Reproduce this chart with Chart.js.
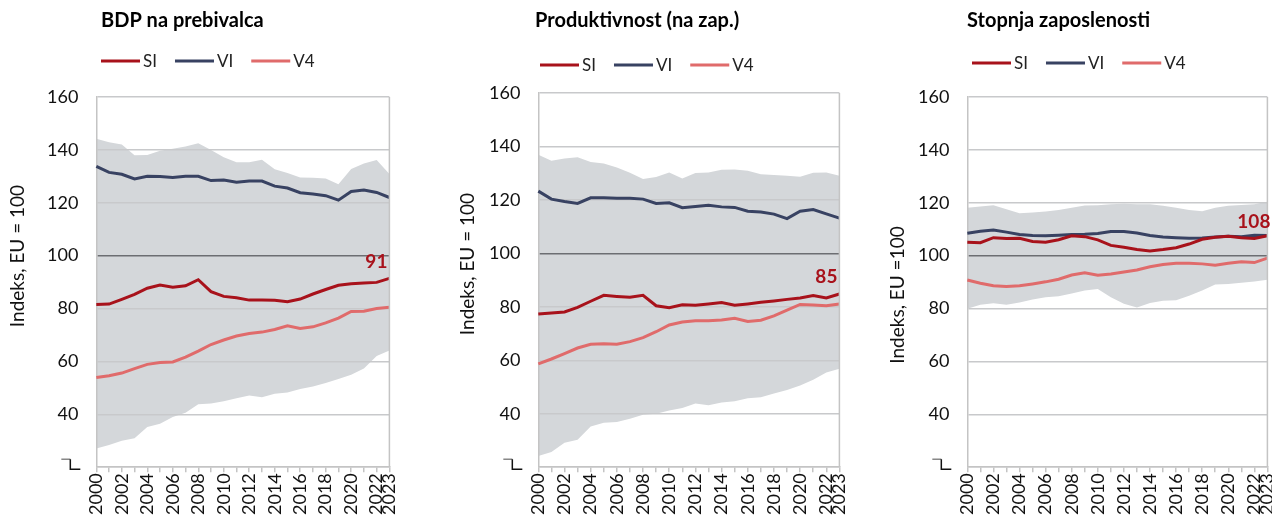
<!DOCTYPE html>
<html>
<head>
<meta charset="utf-8">
<script src="https://cdn.jsdelivr.net/npm/chart.js@4"></script>
<style>
  html, body { margin: 0; padding: 0; background: #fff; }
  #wrap { position: relative; width: 1272px; height: 516px; overflow: hidden; }
  .panel { position: absolute; top: 0; height: 516px; }
</style>
</head>
<body>
<div id="wrap">
  <div class="panel" style="left:0;width:412px"><canvas id="c1"></canvas></div>
  <div class="panel" style="left:450px;width:412px"><canvas id="c2"></canvas></div>
  <div class="panel" style="left:880px;width:410px"><canvas id="c3"></canvas></div>
</div>
<script>
var years = ['2000', '2001', '2002', '2003', '2004', '2005', '2006', '2007', '2008', '2009', '2010', '2011',
             '2012', '2013', '2014', '2015', '2016', '2017', '2018', '2019', '2020', '2021', '2022', '2023'];
var yTicks = [20, 40, 60, 80, 100, 120, 140, 160];

// BDP na prebivalca
var bdpSI  = [81.5, 81.7, 83.5, 85.4, 87.7, 88.9, 88.1, 88.6, 90.9, 86.4, 84.6, 84.1, 83.2, 83.2, 83.1, 82.6, 83.6, 85.5, 87.2, 88.8, 89.4, 89.7, 89.9, 91.4];
var bdpVI  = [133.8, 131.5, 130.8, 129.0, 130.0, 129.9, 129.6, 130.0, 130.0, 128.4, 128.6, 127.8, 128.2, 128.2, 126.3, 125.6, 123.8, 123.3, 122.7, 121.0, 124.3, 124.8, 123.9, 122.0];
var bdpV4  = [53.9, 54.6, 55.6, 57.3, 58.9, 59.6, 59.8, 61.6, 63.9, 66.4, 68.1, 69.6, 70.6, 71.1, 72.1, 73.5, 72.5, 73.1, 74.6, 76.4, 78.9, 79.0, 80.0, 80.5];
var bdpMax = [144.2, 142.9, 142.0, 138.0, 138.1, 139.7, 140.4, 141.3, 142.5, 140.0, 137.2, 135.3, 135.3, 136.3, 132.7, 131.3, 129.6, 129.5, 129.2, 127.0, 132.8, 134.9, 136.2, 130.9];
var bdpMin = [27.1, 28.4, 30.0, 31.0, 35.2, 36.4, 39.0, 40.6, 43.8, 44.1, 45.0, 46.1, 47.1, 46.5, 47.8, 48.3, 49.6, 50.5, 51.9, 53.4, 55.0, 57.3, 62.1, 64.1];

// Produktivnost (na zap.)
var prodSI  = [77.3, 77.7, 78.1, 79.8, 82.1, 84.3, 83.9, 83.6, 84.3, 80.4, 79.7, 80.8, 80.6, 81.1, 81.6, 80.6, 81.1, 81.7, 82.2, 82.8, 83.3, 84.2, 83.3, 84.8];
var prodVI  = [123.3, 120.3, 119.4, 118.7, 120.8, 120.8, 120.6, 120.6, 120.3, 118.7, 118.9, 117.1, 117.5, 118.0, 117.4, 117.2, 115.8, 115.5, 114.7, 113.0, 115.8, 116.4, 114.8, 113.2];
var prodV4  = [58.7, 60.5, 62.5, 64.6, 66.0, 66.2, 66.0, 67.0, 68.5, 70.7, 73.2, 74.3, 74.8, 74.8, 75.1, 75.7, 74.5, 75.0, 76.6, 78.8, 80.9, 80.7, 80.4, 81.1];
var prodMax = [136.9, 134.7, 135.5, 136.0, 134.2, 133.6, 132.1, 130.2, 127.8, 128.6, 130.3, 128.0, 130.1, 130.3, 131.3, 131.4, 130.9, 129.6, 129.3, 129.0, 128.7, 130.2, 130.3, 129.0];
var prodMin = [24.2, 25.7, 29.2, 30.3, 35.2, 36.6, 36.9, 38.1, 39.6, 40.0, 41.2, 42.2, 43.8, 43.2, 44.2, 44.7, 45.8, 46.2, 47.6, 48.9, 50.6, 52.7, 55.4, 56.8];

// Stopnja zaposlenosti
var zapSI  = [105.1, 104.9, 106.8, 106.5, 106.6, 105.4, 105.1, 106.0, 107.5, 107.2, 106.0, 103.9, 103.2, 102.3, 101.8, 102.3, 103.0, 104.4, 106.2, 107.0, 107.3, 106.8, 106.5, 107.5];
var zapVI  = [108.5, 109.2, 109.7, 108.9, 108.0, 107.6, 107.5, 107.7, 108.0, 108.1, 108.4, 109.1, 109.1, 108.6, 107.6, 107.1, 106.8, 106.6, 106.7, 107.1, 107.3, 107.2, 107.7, 107.6];
var zapV4  = [90.8, 89.6, 88.6, 88.3, 88.6, 89.3, 90.1, 91.1, 92.7, 93.5, 92.6, 93.1, 93.8, 94.6, 95.8, 96.7, 97.1, 97.1, 96.9, 96.4, 97.1, 97.7, 97.4, 99.1];
var zapMax = [118.1, 118.6, 119.1, 117.6, 116.0, 116.3, 116.7, 117.3, 118.1, 119.0, 119.1, 119.4, 119.6, 119.4, 119.4, 118.9, 118.1, 117.3, 116.8, 118.1, 118.9, 119.2, 119.4, 120.4];
var zapMin = [79.9, 81.4, 82.0, 81.4, 82.3, 83.4, 84.3, 84.7, 85.7, 86.8, 87.4, 84.3, 81.8, 80.4, 82.1, 83.0, 83.1, 84.8, 86.8, 89.1, 89.3, 89.8, 90.2, 90.9];

var FONT = 'Lato, "Liberation Sans", sans-serif';
var RED = '#a8121b', NAVY = '#384262', PINK = '#e06b6b', BAND = '#d4d7da';

var panels = [
  { id: 'c1', title: 'BDP na prebivalca', axis: 'Indeks, EU = 100',
    si: bdpSI, vi: bdpVI, v4: bdpV4, hi: bdpMax, lo: bdpMin,
    pad: { left: 29, top: 97, right: 0, bottom: 0 },
    titleX: 101, legendX: 101, legendY: 61, axisX: 18, axisY: 256, endDx: -2, endDy: -10 },
  { id: 'c2', title: 'Produktivnost (na zap.)', axis: 'Indeks, EU = 100',
    si: prodSI, vi: prodVI, v4: prodV4, hi: prodMax, lo: prodMin,
    pad: { left: 21, top: 93, right: 0, bottom: 0 },
    titleX: 85, legendX: 90, legendY: 65, axisX: 18, axisY: 264, endDx: -2, endDy: -11 },
  { id: 'c3', title: 'Stopnja zaposlenosti', axis: 'Indeks, EU =100',
    si: zapSI, vi: zapVI, v4: zapV4, hi: zapMax, lo: zapMin,
    pad: { left: 20, top: 97, right: 0, bottom: 0 },
    titleX: 87, legendX: 92, legendY: 63, axisX: 18, axisY: 295, endDx: 3, endDy: -8 }
];

// naslov, legenda, naslov osi, desni rob, prelom osi in oznaka zadnje vrednosti
var decor = {
  id: 'decor',
  afterDraw: function (chart) {
    var p = chart.options.plugins.decor;
    var ctx = chart.ctx, a = chart.chartArea;
    ctx.save();

    ctx.fillStyle = '#000';
    ctx.font = 'bold 20px ' + FONT;
    ctx.textAlign = 'left';
    ctx.textBaseline = 'middle';
    ctx.fillText(p.title, p.titleX, 21);

    // legenda
    ctx.font = '17px ' + FONT;
    var x = p.legendX;
    chart.data.datasets.forEach(function (ds) {
      if (!ds.inLegend) return;
      ctx.fillStyle = ds.borderColor;
      ctx.fillRect(x, p.legendY - 1.5, 39, 3);
      x += 42;
      ctx.fillStyle = '#222';
      ctx.fillText(ds.label, x, p.legendY + 1);
      x += ctx.measureText(ds.label).width + 18;
    });

    // naslov osi y
    ctx.save();
    ctx.translate(p.axisX, p.axisY);
    ctx.rotate(-Math.PI / 2);
    ctx.textAlign = 'center';
    ctx.fillStyle = '#111';
    ctx.font = '19px ' + FONT;
    ctx.fillText(p.axis, 0, 0);
    ctx.restore();

    // desni rob
    ctx.strokeStyle = '#c4c4c4';
    ctx.lineWidth = 1.5;
    ctx.beginPath();
    ctx.moveTo(a.right, a.top);
    ctx.lineTo(a.right, a.bottom);
    ctx.stroke();

    // prelom osi
    ctx.strokeStyle = '#888';
    ctx.beginPath();
    ctx.moveTo(a.left - 35, a.bottom - 8);
    ctx.lineTo(a.left - 26, a.bottom - 8);
    ctx.stroke();
    ctx.strokeStyle = '#111';
    ctx.beginPath();
    ctx.moveTo(a.left - 26, a.bottom - 8);
    ctx.lineTo(a.left - 26, a.bottom + 2);
    ctx.lineTo(a.left - 16, a.bottom + 2);
    ctx.stroke();

    // zadnja vrednost SI
    var meta = chart.getDatasetMeta(0);
    var last = meta.data[meta.data.length - 1];
    var val = chart.data.datasets[0].data[meta.data.length - 1];
    ctx.fillStyle = RED;
    ctx.font = 'bold 19px ' + FONT;
    ctx.textAlign = 'right';
    ctx.textBaseline = 'alphabetic';
    ctx.fillText(String(Math.round(val)), a.right + p.endDx, last.y + p.endDy);

    ctx.restore();
  }
};

function makeChart(p) {
  return new Chart(document.getElementById(p.id), {
    type: 'line',
    data: {
      labels: years,
      datasets: [
        { label: 'SI', data: p.si, borderColor: RED, borderWidth: 3, inLegend: true },
        { label: 'VI', data: p.vi, borderColor: NAVY, borderWidth: 3, inLegend: true },
        { label: 'V4', data: p.v4, borderColor: PINK, borderWidth: 3, inLegend: true },
        { label: 'max', data: p.hi, borderWidth: 0, borderColor: BAND, backgroundColor: BAND, fill: '+1' },
        { label: 'min', data: p.lo, borderWidth: 0, borderColor: BAND, fill: false }
      ]
    },
    options: {
      responsive: true,
      maintainAspectRatio: false,
      animation: false,
      layout: { padding: p.pad },
      elements: { point: { radius: 0 }, line: { tension: 0 } },
      plugins: {
        legend: { display: false },
        tooltip: { enabled: false },
        filler: { drawTime: 'beforeDraw' },
        decor: p
      },
      scales: {
        x: {
          grid: { drawOnChartArea: false, drawTicks: true, tickLength: 5, color: '#c4c4c4', lineWidth: 1.5 },
          border: { color: '#c4c4c4', width: 1.5 },
          ticks: {
            autoSkip: false, maxRotation: 90, minRotation: 90, padding: 1,
            color: '#111', font: { family: FONT, size: 18 },
            callback: function (v, i) {
              var y = years[i];
              return (Number(y) % 2 === 0 || i === years.length - 1) ? y : '';
            }
          }
        },
        y: {
          min: yTicks[0], max: yTicks[yTicks.length - 1],
          afterBuildTicks: function (axis) {
            axis.ticks = yTicks.map(function (v) { return { value: v }; });
          },
          grid: {
            drawTicks: false, lineWidth: 1.5,
            color: function (c) { return c.tick && c.tick.value === 100 ? '#6c6e72' : '#c8c9cb'; }
          },
          border: { color: '#c4c4c4', width: 1.5 },
          ticks: {
            padding: 18, color: '#111', font: { family: FONT, size: 18 },
            callback: function (v) { return v === yTicks[0] ? '' : v; }
          }
        }
      }
    },
    plugins: [decor]
  });
}

panels.forEach(makeChart);
</script>
</body>
</html>
